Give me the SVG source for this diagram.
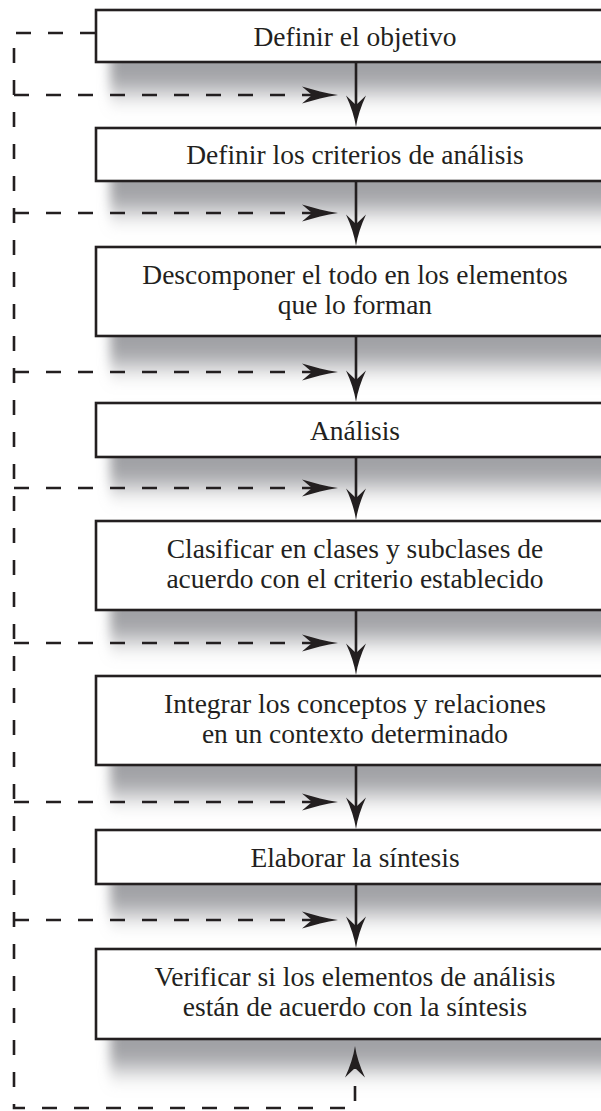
<svg xmlns="http://www.w3.org/2000/svg" width="601" height="1111" viewBox="0 0 601 1111">
<style>
.box{fill:#fff;stroke:#231f20;stroke-width:2.6}
.sh{fill:#a0a1a5;filter:url(#blur)}
.t{font-family:"Liberation Serif","Times New Roman",serif;font-size:27.5px;fill:#231f20;text-anchor:middle}
.solid{fill:none;stroke:#231f20;stroke-width:2.6}
.dash{fill:none;stroke:#231f20;stroke-width:2.6;stroke-dasharray:15 17}
.head{fill:#231f20}
</style>
<defs>
<filter id="blur" x="-10%" y="-100%" width="120%" height="300%"><feGaussianBlur stdDeviation="6 12"/></filter>
<marker id="ah" markerUnits="userSpaceOnUse" viewBox="-12 -12 40 24" markerWidth="40" markerHeight="24" refX="0" refY="0" orient="auto" overflow="visible"><path class="head" d="M26,0 C14,-1.5 2,-5 -10,-8.5 L0,0 L-10,8.5 C2,5 14,1.5 26,0Z"/></marker>
<marker id="av" markerUnits="userSpaceOnUse" viewBox="-12 -12 40 24" markerWidth="40" markerHeight="24" refX="0" refY="0" orient="auto" overflow="visible"><path class="head" d="M22,0 C12,-1.5 1,-5 -9.5,-10 L0,0 L-9.5,10 C1,5 12,1.5 22,0Z"/></marker>
</defs>
<rect width="601" height="1111" fill="#fff"/>
<g id="n1"><rect class="sh" x="110" y="32" width="520" height="60"/><rect class="box" x="96" y="10" width="525" height="52"/><text class="t" x="355" y="45.5">Definir el objetivo</text></g>
<g id="n2"><rect class="sh" x="110" y="151" width="520" height="60"/><rect class="box" x="96" y="128" width="525" height="53"/><text class="t" x="355" y="164">Definir los criterios de análisis</text></g>
<g id="n3"><rect class="sh" x="110" y="306" width="520" height="60"/><rect class="box" x="96" y="247" width="525" height="89"/><text class="t" x="355" y="283.5">Descomponer el todo en los elementos</text><text class="t" x="355" y="313.5">que lo forman</text></g>
<g id="n4"><rect class="sh" x="110" y="427" width="520" height="60"/><rect class="box" x="96" y="403" width="525" height="54"/><text class="t" x="355" y="439.5">Análisis</text></g>
<g id="n5"><rect class="sh" x="110" y="580" width="520" height="60"/><rect class="box" x="96" y="521" width="525" height="89"/><text class="t" x="355" y="557.5">Clasificar en clases y subclases de</text><text class="t" x="355" y="587.5">acuerdo con el criterio establecido</text></g>
<g id="n6"><rect class="sh" x="110" y="735" width="520" height="60"/><rect class="box" x="96" y="676" width="525" height="89"/><text class="t" x="355" y="712.5">Integrar los conceptos y relaciones</text><text class="t" x="355" y="742.5">en un contexto determinado</text></g>
<g id="n7"><rect class="sh" x="110" y="854" width="520" height="60"/><rect class="box" x="96" y="830" width="525" height="54"/><text class="t" x="355" y="866.5">Elaborar la síntesis</text></g>
<g id="n8"><rect class="sh" x="110" y="1009" width="520" height="60"/><rect class="box" x="96" y="949" width="525" height="90"/><text class="t" x="355" y="986">Verificar si los elementos de análisis</text><text class="t" x="355" y="1016">están de acuerdo con la síntesis</text></g>
<g id="connectors">
<path class="solid" d="M356,62 V105" marker-end="url(#av)"/>
<path class="solid" d="M356,181 V224" marker-end="url(#av)"/>
<path class="solid" d="M356,336 V380" marker-end="url(#av)"/>
<path class="solid" d="M356,457 V498" marker-end="url(#av)"/>
<path class="solid" d="M356,610 V653" marker-end="url(#av)"/>
<path class="solid" d="M356,765 V807" marker-end="url(#av)"/>
<path class="solid" d="M356,884 V926" marker-end="url(#av)"/>
<path class="dash" d="M14,95 H312" marker-end="url(#ah)"/>
<path class="dash" d="M14,213 H312" marker-end="url(#ah)"/>
<path class="dash" d="M14,372 H312" marker-end="url(#ah)"/>
<path class="dash" d="M14,488 H312" marker-end="url(#ah)"/>
<path class="dash" d="M14,643 H312" marker-end="url(#ah)"/>
<path class="dash" d="M14,802 H312" marker-end="url(#ah)"/>
<path class="dash" d="M14,920 H312" marker-end="url(#ah)"/>
<path class="dash" d="M95,33 H14 V1108 H355 V1068" marker-end="url(#av)"/>
</g>
</svg>
